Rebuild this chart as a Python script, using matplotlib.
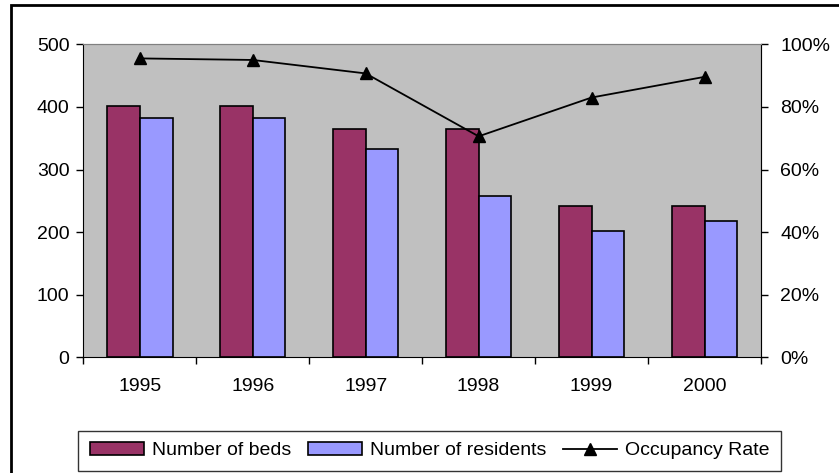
import matplotlib
matplotlib.use("Agg")
import matplotlib.pyplot as plt
import numpy as np
from matplotlib.patches import Rectangle

plt.rcParams['font.family'] = ['Liberation Sans', 'DejaVu Sans']
plt.rcParams['font.size'] = 14

years = ['1995', '1996', '1997', '1998', '1999', '2000']
beds = [401, 401, 365, 365, 242, 242]
residents = [383, 383, 332, 258, 202, 218]
occupancy = [95.5, 95.0, 90.7, 70.6, 83.0, 89.6]

fig = plt.figure(figsize=(8.39, 4.73), dpi=100)
ax = fig.add_axes([0.0993, 0.2446, 0.8077, 0.6617])
ax.set_facecolor('#C0C0C0')

x = np.arange(len(years))
w = 0.29
ax.bar(x - w / 2, beds, w, color='#993366', edgecolor='black', linewidth=1.2, label='Number of beds', zorder=2)
ax.bar(x + w / 2, residents, w, color='#9999FF', edgecolor='black', linewidth=1.2, label='Number of residents', zorder=2)

ax.set_xlim(-0.5, len(years) - 0.5)
ax.set_ylim(0, 500)
ax.set_yticks(range(0, 501, 100))
ax.set_xticks(x)
ax.set_xticklabels(years)
ax.set_xticks(np.arange(-0.5, len(years), 1), minor=True)
ax.tick_params(axis='x', which='major', length=0, pad=15)
ax.tick_params(axis='x', which='minor', length=5, direction='out', width=1)
ax.tick_params(axis='y', length=5, direction='out', width=1, pad=5)

for s in ['top', 'right']:
    ax.spines[s].set_color('#808080')
ax.spines['left'].set_color('black')
ax.spines['bottom'].set_color('black')

ax2 = ax.twinx()
ax2.plot(x, occupancy, color='black', marker='^', markersize=9, linewidth=1.3, label='Occupancy Rate')
ax2.set_ylim(0, 100)
ax2.set_yticks(range(0, 101, 20))
ax2.set_yticklabels([f'{v}%' for v in range(0, 101, 20)])
ax2.tick_params(axis='y', length=5, direction='out', width=1, pad=9)
ax2.spines['right'].set_color('black')
ax2.spines['top'].set_color('#808080')
ax2.spines['left'].set_visible(False)
ax2.spines['bottom'].set_visible(False)

h1, l1 = ax.get_legend_handles_labels()
h2, l2 = ax2.get_legend_handles_labels()
leg = fig.legend(h1 + h2, l1 + l2, loc='center', bbox_to_anchor=(429.5 / 839, 1 - 450.7 / 473),
                 ncol=3, frameon=True, fancybox=False, edgecolor='black',
                 handlelength=2.8, handleheight=0.6, columnspacing=0.85, handletextpad=0.4,
                 borderpad=0.6, borderaxespad=0, fontsize=14)
leg.get_frame().set_linewidth(1)

fig.add_artist(Rectangle((10.5 / 839, -0.1), 1.2, 1 - 5.5 / 473 + 0.1, transform=fig.transFigure,
                         fill=False, edgecolor='black', linewidth=2))

fig.savefig('out.png', dpi=100)
